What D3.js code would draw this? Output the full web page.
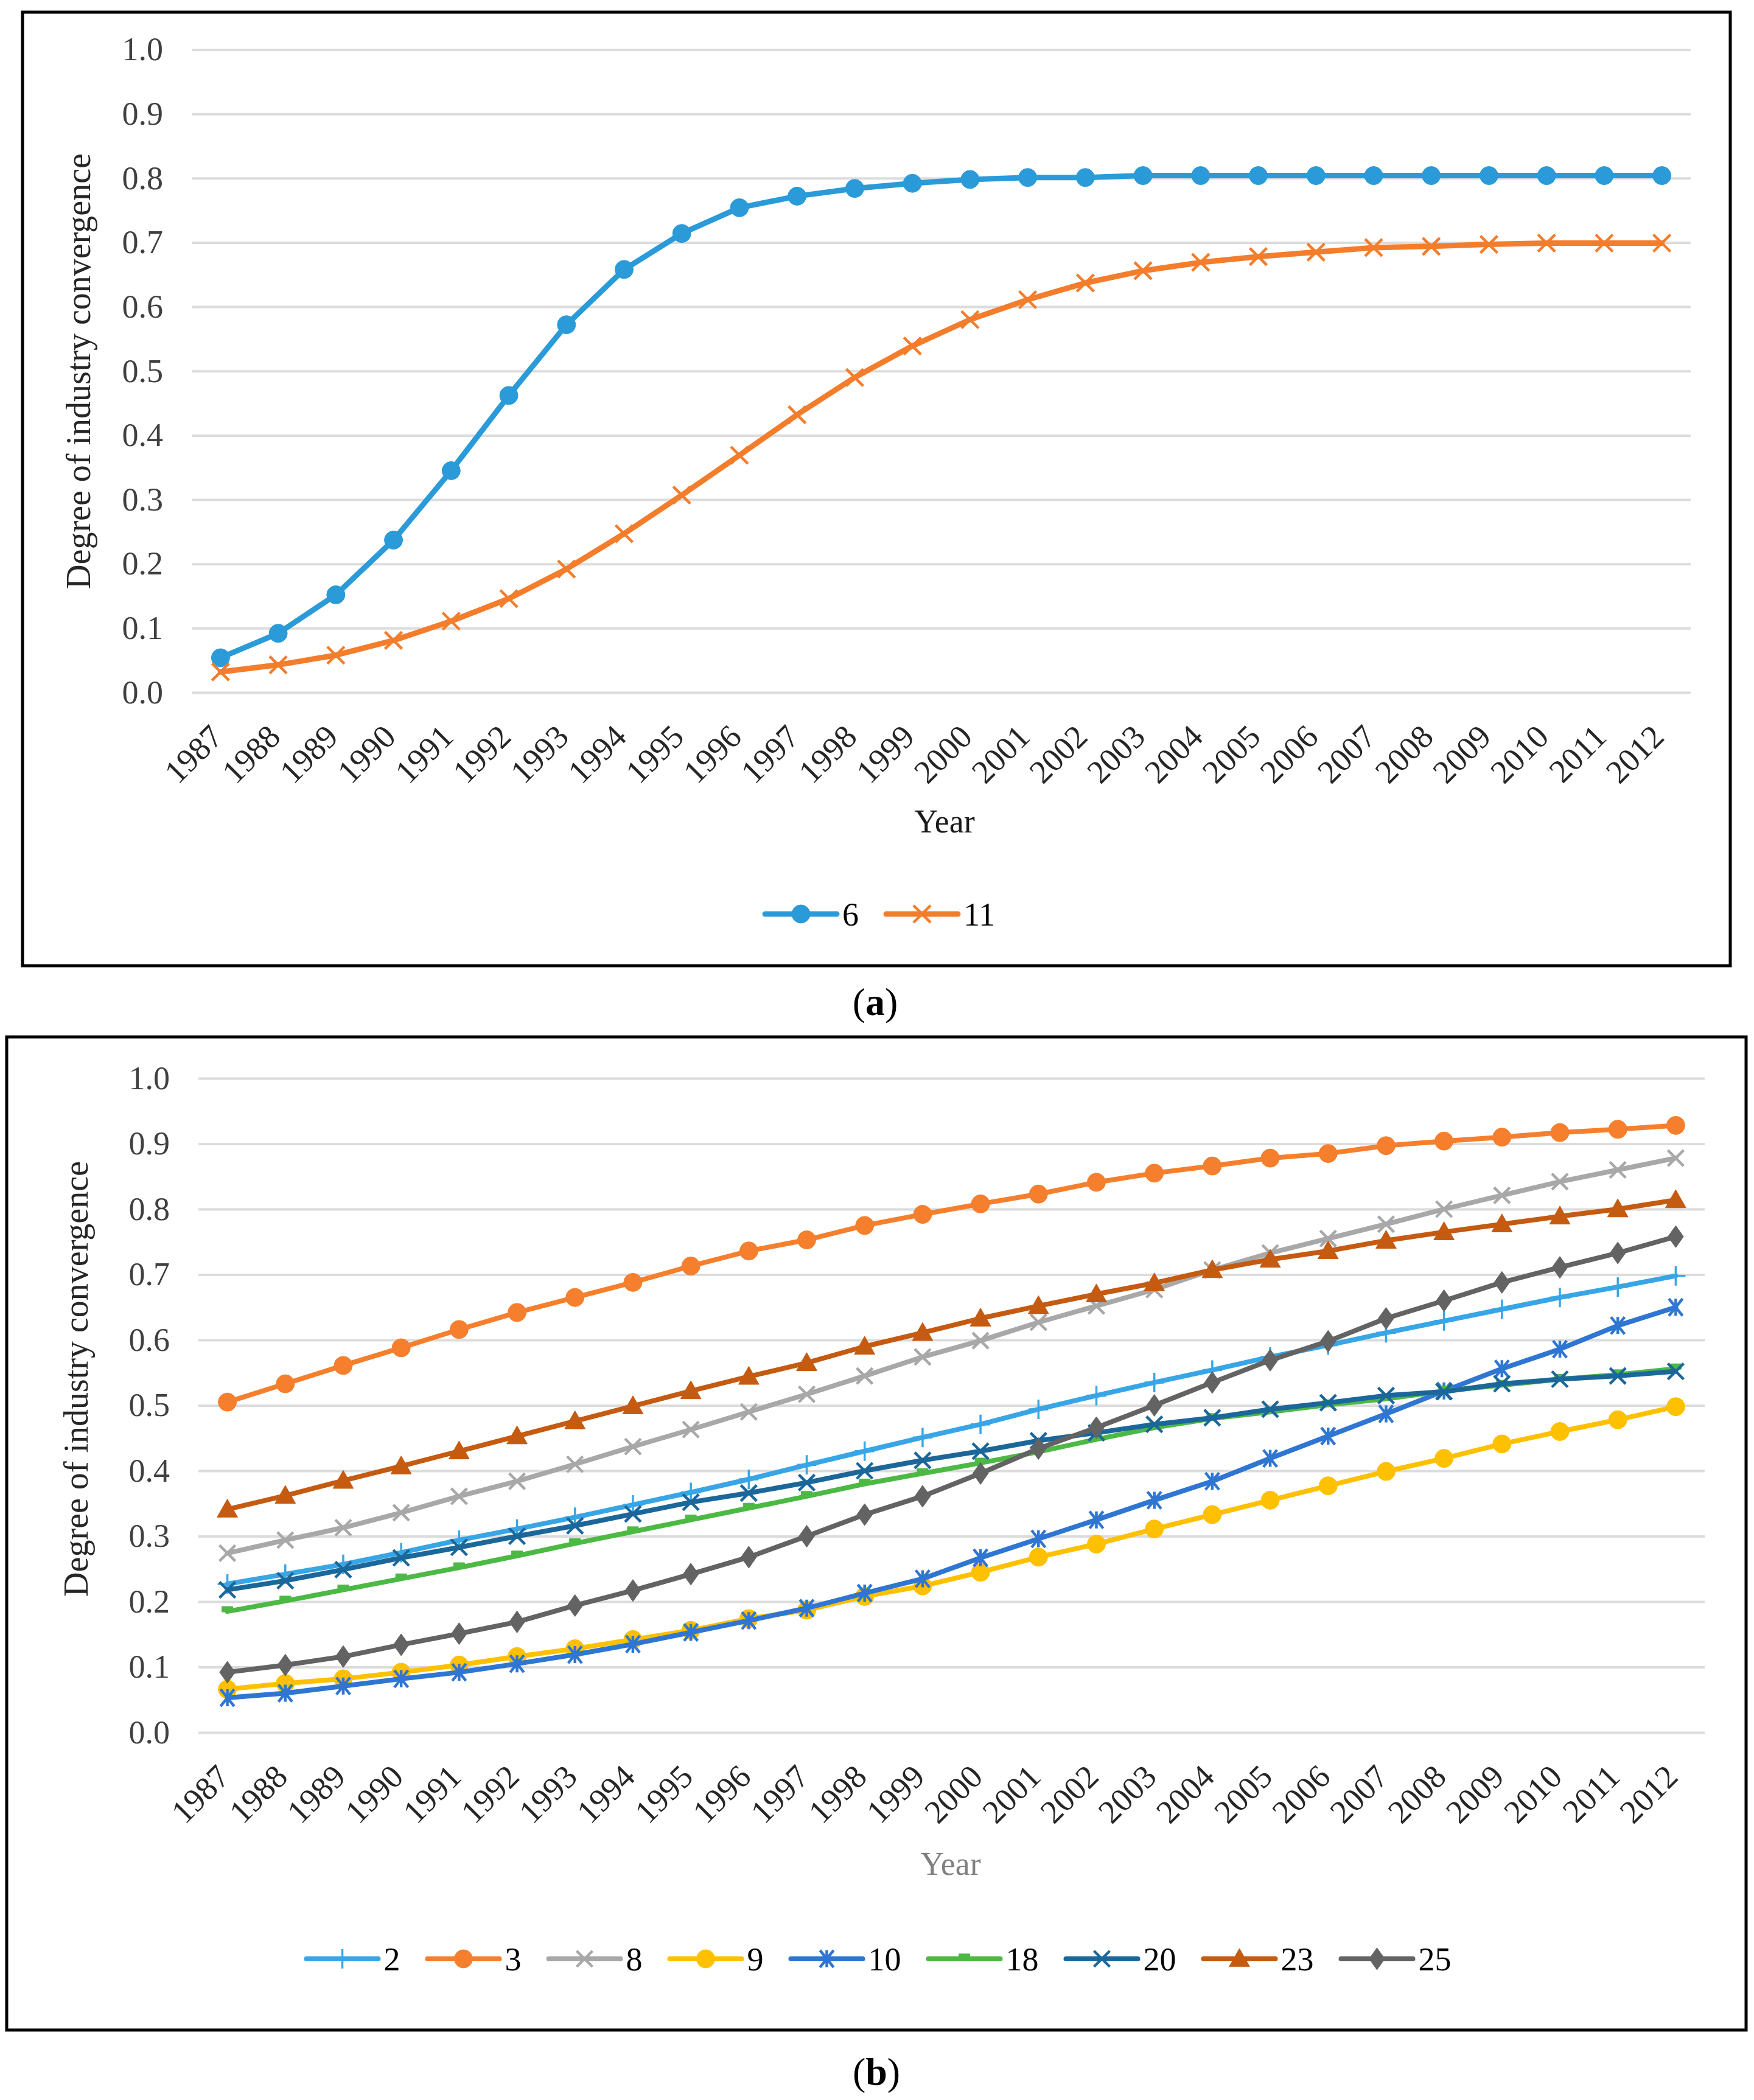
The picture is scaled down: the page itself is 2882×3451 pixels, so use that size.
<!DOCTYPE html>
<html>
<head>
<meta charset="utf-8">
<script src="https://cdn.jsdelivr.net/npm/d3@7"></script>
<style>
  body { margin: 0; background: #fff; }
  text { font-family: "Liberation Serif", "Times New Roman", serif; }
</style>
</head>
<body>
<script>
//categories and tick labels
var years = ["1987","1988","1989","1990","1991","1992","1993","1994","1995","1996","1997","1998","1999",
             "2000","2001","2002","2003","2004","2005","2006","2007","2008","2009","2010","2011","2012"];
var yTicks = [0, 0.1, 0.2, 0.3, 0.4, 0.5, 0.6, 0.7, 0.8, 0.9, 1.0];

//panel (a) series
var namesA = ["6", "11"];
var s6  = [0.054,0.092,0.152,0.237,0.345,0.462,0.572,0.658,0.714,0.754,0.772,0.784,0.792,0.798,0.801,0.801,0.804,0.804,0.804,0.804,0.804,0.804,0.804,0.804,0.804,0.804];
var s11 = [0.032,0.043,0.058,0.081,0.111,0.146,0.192,0.247,0.307,0.369,0.432,0.490,0.539,0.580,0.611,0.637,0.656,0.669,0.678,0.685,0.692,0.694,0.697,0.699,0.699,0.699];

//panel (b) series
var namesB = ["2", "3", "8", "9", "10", "18", "20", "23", "25"];
var s2  = [0.227,0.242,0.257,0.275,0.294,0.311,0.329,0.348,0.367,0.387,0.409,0.430,0.451,0.471,0.494,0.515,0.535,0.554,0.574,0.592,0.611,0.629,0.647,0.665,0.681,0.698];
var s3  = [0.505,0.533,0.561,0.588,0.616,0.642,0.665,0.688,0.713,0.736,0.753,0.775,0.792,0.808,0.823,0.841,0.855,0.866,0.878,0.885,0.897,0.904,0.910,0.917,0.922,0.928];
var s8  = [0.274,0.294,0.313,0.336,0.361,0.384,0.410,0.437,0.463,0.490,0.517,0.545,0.574,0.599,0.627,0.652,0.677,0.707,0.733,0.755,0.777,0.800,0.821,0.842,0.860,0.878];
var s9  = [0.066,0.075,0.082,0.092,0.103,0.116,0.128,0.142,0.156,0.174,0.187,0.208,0.224,0.245,0.268,0.288,0.311,0.333,0.355,0.377,0.399,0.419,0.441,0.460,0.478,0.498];
var s10 = [0.053,0.060,0.071,0.082,0.092,0.105,0.119,0.135,0.153,0.171,0.190,0.213,0.235,0.267,0.296,0.325,0.355,0.384,0.419,0.453,0.487,0.522,0.556,0.586,0.622,0.650];
var s18 = [0.185,0.201,0.218,0.235,0.252,0.270,0.289,0.307,0.325,0.343,0.361,0.380,0.396,0.412,0.429,0.448,0.466,0.480,0.490,0.501,0.510,0.522,0.531,0.540,0.547,0.556];
var s20 = [0.218,0.232,0.249,0.267,0.283,0.300,0.316,0.334,0.352,0.366,0.382,0.400,0.416,0.430,0.446,0.458,0.471,0.481,0.494,0.504,0.515,0.521,0.533,0.540,0.545,0.552];
var s23 = [0.341,0.362,0.385,0.407,0.430,0.453,0.476,0.499,0.522,0.544,0.565,0.590,0.611,0.633,0.652,0.670,0.687,0.707,0.723,0.736,0.752,0.765,0.777,0.789,0.800,0.814];
var s25 = [0.092,0.103,0.116,0.134,0.151,0.169,0.194,0.217,0.242,0.268,0.300,0.333,0.361,0.396,0.434,0.466,0.500,0.535,0.569,0.598,0.633,0.660,0.688,0.711,0.733,0.758];

var W = 2882, H = 3451;
var svg = d3.select("body").append("svg")
    .attr("width", W)
    .attr("height", H);

//marker path builders
function markerPath(shape, s){
    switch(shape){
        case "circle": return d3.symbol(d3.symbolCircle, Math.PI * s * s)();
        case "triangle": return "M0," + (-s*1.05) + "L" + (s*1.05) + "," + (s*0.8) + "L" + (-s*1.05) + "," + (s*0.8) + "Z";
        case "diamond": return "M0," + (-s*1.2) + "L" + (s*0.85) + ",0L0," + (s*1.2) + "L" + (-s*0.85) + ",0Z";
        case "times": return "M" + (-s) + "," + (-s) + "L" + s + "," + s + "M" + (-s) + "," + s + "L" + s + "," + (-s);
        case "plus": return "M0," + (-s) + "V" + s + "M" + (-s) + ",0H" + s;
        case "asterisk": return "M" + (-s*0.8) + "," + (-s) + "L" + (s*0.8) + "," + s + "M" + (-s*0.8) + "," + s + "L" + (s*0.8) + "," + (-s) + "M0," + (-s) + "V" + s;
        case "dash": return "M" + (-s) + "," + (-s*0.9) + "H" + s + "V" + (s*0.1) + "H" + (-s) + "Z";
    }
}
var filledShapes = {circle: true, triangle: true, diamond: true, dash: true};

function drawMarker(g, shape, color, size, x, y){
    var p = g.append("path")
        .attr("d", markerPath(shape, size))
        .attr("transform", "translate(" + x + "," + y + ")");
    if (filledShapes[shape]) {
        p.style("fill", color).style("stroke", color).style("stroke-width", 1);
    } else {
        p.style("fill", "none").style("stroke", color).style("stroke-width", shape == "plus" ? 3.5 : 4.5);
    }
}

function drawPanel(cfg){
    //outer frame
    svg.append("rect")
        .attr("x", cfg.frame[0]).attr("y", cfg.frame[1])
        .attr("width", cfg.frame[2] - cfg.frame[0])
        .attr("height", cfg.frame[3] - cfg.frame[1])
        .style("fill", "none").style("stroke", "#000").style("stroke-width", 5);

    var x = d3.scalePoint()
        .domain(years)
        .range([cfg.left, cfg.right])
        .padding(0.5);
    var y = d3.scaleLinear()
        .domain([0, 1])
        .range([cfg.bottom, cfg.top]);

    //y axis with gridlines
    var yAxis = d3.axisLeft(y)
        .tickValues(yTicks)
        .tickFormat(d3.format(".1f"))
        .tickSize(-(cfg.right - cfg.left))
        .tickPadding(47);
    var yg = svg.append("g")
        .attr("transform", "translate(" + cfg.left + ",0)")
        .call(yAxis);
    yg.select(".domain").remove();
    yg.selectAll("line").style("stroke", "#dcdcdc").style("stroke-width", 4);
    yg.selectAll("text")
        .style("font-size", "54px")
        .style("font-family", "Liberation Serif")
        .style("fill", "#404040");

    //x axis, rotated labels
    var xAxis = d3.axisBottom(x).tickSize(0).tickPadding(0);
    var xg = svg.append("g")
        .attr("transform", "translate(0," + cfg.bottom + ")")
        .call(xAxis);
    xg.select(".domain").remove();
    xg.selectAll("text")
        .attr("y", 0).attr("dy", null)
        .attr("transform", "translate(6,76) rotate(-45)")
        .style("text-anchor", "end")
        .style("font-size", "54px")
        .style("font-family", "Liberation Serif")
        .style("fill", "#262626");

    //axis titles
    svg.append("text")
        .attr("transform", "translate(" + cfg.yTitleX + "," + cfg.yTitleY + ") rotate(-90)")
        .attr("text-anchor", "middle")
        .attr("dy", "0.35em")
        .style("font-size", "56px")
        .style("fill", "#262626")
        .text("Degree of industry convergence");
    svg.append("text")
        .attr("x", cfg.xTitle[0]).attr("y", cfg.xTitle[1])
        .attr("text-anchor", "middle")
        .style("font-size", "54px")
        .style("fill", cfg.xTitleColor)
        .text("Year");

    //series lines + markers
    cfg.series.forEach(function(s){
        var line = d3.line()
            .x(function(d, i){ return x(years[i]); })
            .y(function(d){ return y(d); });
        var g = svg.append("g");
        g.append("path")
            .datum(s.values)
            .attr("d", line)
            .style("fill", "none")
            .style("stroke", s.color)
            .style("stroke-width", cfg.lineWidth)
            .style("stroke-linejoin", "round")
            .style("stroke-linecap", "round");
        s.values.forEach(function(v, i){
            drawMarker(g, s.shape, s.color, s.size, x(years[i]), y(v));
        });
    });

    //legend, centred
    var leg = svg.append("g");
    var cursor = 0;
    cfg.series.forEach(function(s){
        var item = leg.append("g").attr("transform", "translate(" + cursor + ",0)");
        item.append("line")
            .attr("x1", 0).attr("x2", 118).attr("y1", 0).attr("y2", 0)
            .style("stroke", s.color).style("stroke-width", cfg.lineWidth)
            .style("stroke-linecap", "round");
        drawMarker(item, s.shape, s.color, s.size, 59, 0);
        var t = item.append("text")
            .attr("x", 127).attr("y", 19)
            .style("font-size", "54px")
            .style("fill", "#000")
            .text(s.name);
        cursor += 127 + t.node().getComputedTextLength() + 45;
    });
    var legWidth = cursor - 45;
    leg.attr("transform", "translate(" + (cfg.legendCx - legWidth / 2) + "," + cfg.legendY + ")");

    //panel caption
    var cap = svg.append("text")
        .attr("x", cfg.caption[0]).attr("y", cfg.caption[1])
        .attr("text-anchor", "middle")
        .style("font-size", "64px")
        .style("fill", "#000");
    cap.append("tspan").text("(");
    cap.append("tspan").style("font-weight", "bold").text(cfg.label);
    cap.append("tspan").text(")");
}

drawPanel({
    frame: [37, 20, 2843, 1587],
    left: 315, right: 2778, top: 81.5, bottom: 1138,
    yTitleX: 128, yTitleY: 610,
    xTitle: [1552, 1368], xTitleColor: "#1a1a1a",
    legendCx: 1446, legendY: 1502,
    caption: [1438, 1668], label: "a",
    lineWidth: 9,
    series: [
        {name: namesA[0], values: s6,  color: "#2A9BD8", shape: "circle", size: 15},
        {name: namesA[1], values: s11, color: "#F47D2C", shape: "times",  size: 14}
    ]
});

drawPanel({
    frame: [11, 1704, 2869, 3336],
    left: 326, right: 2801, top: 1772, bottom: 2847,
    yTitleX: 124, yTitleY: 2266,
    xTitle: [1562, 3081], xTitleColor: "#808080",
    legendCx: 1444, legendY: 3219,
    caption: [1440, 3426], label: "b",
    lineWidth: 8,
    series: [
        {name: namesB[0], values: s2,  color: "#38A6E6", shape: "plus",     size: 16},
        {name: namesB[1], values: s3,  color: "#F57F2D", shape: "circle",   size: 15},
        {name: namesB[2], values: s8,  color: "#A8A8A8", shape: "times",    size: 13},
        {name: namesB[3], values: s9,  color: "#FFC000", shape: "circle",   size: 15},
        {name: namesB[4], values: s10, color: "#2F76D2", shape: "asterisk", size: 14},
        {name: namesB[5], values: s18, color: "#4CB944", shape: "dash",     size: 9},
        {name: namesB[6], values: s20, color: "#1C679A", shape: "times",    size: 13},
        {name: namesB[7], values: s23, color: "#C55A11", shape: "triangle", size: 16},
        {name: namesB[8], values: s25, color: "#636363", shape: "diamond",  size: 15}
    ]
});
</script>
</body>
</html>
